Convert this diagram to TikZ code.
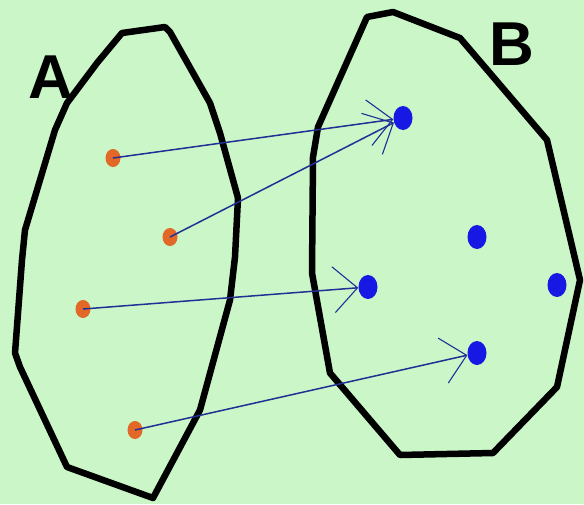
\documentclass[tikz,border=0pt]{standalone}
\usepackage{fontspec}
\setmainfont{Liberation Sans}
\usepackage{tikz}
\usetikzlibrary{arrows.meta, shapes.geometric}

\definecolor{bg}{RGB}{202,246,200}
\definecolor{dotA}{RGB}{226,104,40}
\definecolor{dotB}{RGB}{24,24,228}
\definecolor{mapline}{RGB}{34,48,150}

\begin{document}
\begin{tikzpicture}[x=1pt, y=-1pt, line join=round,
    dota/.style={ellipse, fill=dotA, inner sep=0pt, minimum width=15pt, minimum height=18pt},
    dotb/.style={ellipse, fill=dotB, inner sep=0pt, minimum width=19pt, minimum height=24pt},
    maps/.style={-{Straight Barb[length=24pt, width=46pt, line width=1.1pt]}, mapline, line width=1.5pt},
    setname/.style={inner sep=0pt, font=\fontsize{62}{62}\selectfont\bfseries}]
        \fill[bg] (0,0) rectangle (584,504);
        \useasboundingbox (0,0) rectangle (584,504);

        % set A
        \draw[line width=6.5pt] (122,33) -- (165,27) -- (170,32) -- (210,103) -- (220,133)
            -- (238,198) -- (235,257) -- (230,300) -- (200,410) -- (153,498) -- (67,467)
            -- (20,367) -- (15,353) -- (22,260) -- (25,230) -- (55,130) -- (67,103)
            -- (97,63) -- cycle;
        % set B
        \draw[line width=6.5pt] (367,17) -- (393,12) -- (460,38) -- (547,140) -- (580,280)
            -- (557,387) -- (493,453) -- (400,455) -- (330,373) -- (312,273) -- (313,157)
            -- (318,127) -- cycle;

        \node[setname] (labA) at (51,77) {A};
        \node[setname] (labB) at (512,44) {B};

        % elements
        \node[dota] (a1) at (113,158) {};
        \node[dota] (a2) at (170,237) {};
        \node[dota] (a3) at (83,309) {};
        \node[dota] (a4) at (135,430) {};

        \node[dotb] (b1) at (403,118) {};
        \node[dotb] (b2) at (477,237) {};
        \node[dotb] (b3) at (368,287) {};
        \node[dotb] (b4) at (557,285) {};
        \node[dotb] (b5) at (477,353) {};

        % mapping
        \draw[maps] (a1.center) -- (b1);
        \draw[maps] (a2.center) -- (b1);
        \draw[maps] (a3.center) -- (b3);
        \draw[maps] (a4.center) -- (b5);
    \end{tikzpicture}
\end{document}
